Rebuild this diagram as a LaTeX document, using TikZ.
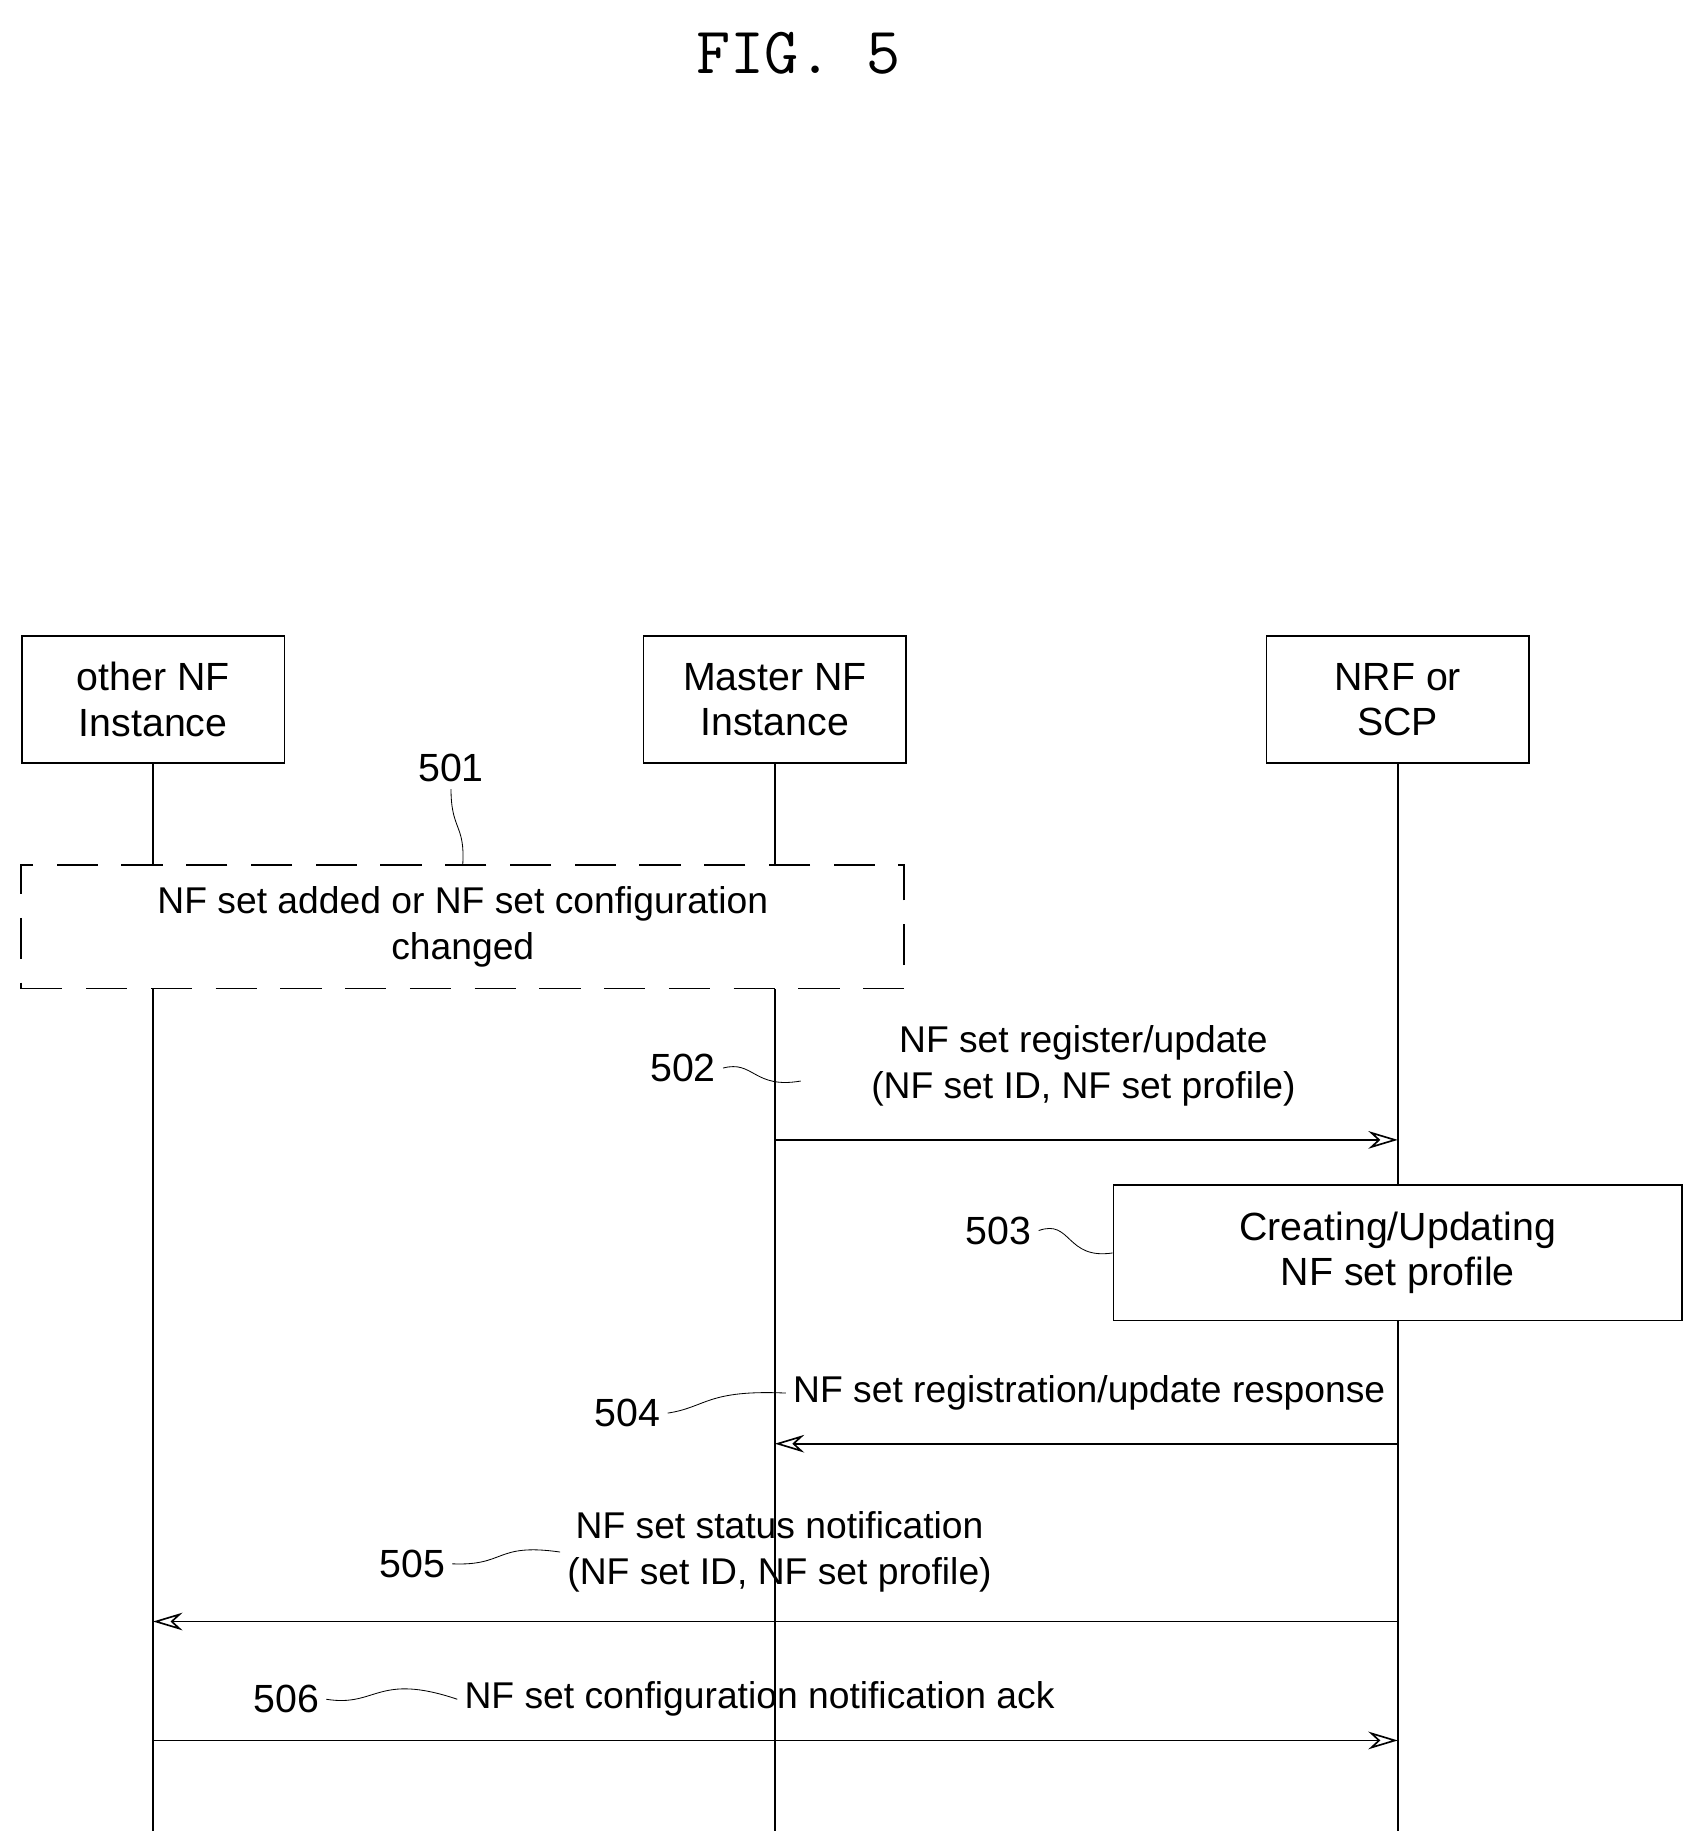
\documentclass[tikz,border=0pt]{standalone}
\usepackage{fontspec}
\setmainfont{Liberation Sans}
\usetikzlibrary{arrows.meta,positioning}
\tikzset{
  ent/.style={draw, thick, minimum width=4.46cm, minimum height=2.16cm, align=center, fill=white, font=\fontsize{19}{22}\selectfont},
  msg/.style={font=\fontsize{18}{22}\selectfont, align=center},
  ref/.style={font=\fontsize{19}{22}\selectfont},
  life/.style={thick},
  call/.style={thick, -{Stealth[length=5mm,width=3mm,open]}},
  tag/.style={thin}
}
\begin{document}
\begin{tikzpicture}[x=0.02cm,y=-0.02cm]
\useasboundingbox (0,0) rectangle (1440,1560);
% title
\node[font=\ttfamily\fontsize{32}{36}\selectfont] (title) at (678,45) {FIG. 5};

% entities
\node[ent] (other) at (130,594) {other NF\\Instance};
\node[ent] (master) at (658,594) {Master NF\\Instance};
\node[ent] (nrf) at (1187,594) {NRF or\\SCP};

% lifelines
\coordinate (otherEnd) at (130,1555);
\coordinate (masterEnd) at (658,1555);
\coordinate (nrfEnd) at (1187,1555);
\draw[life] (other) -- (otherEnd);
\draw[life] (master) -- (masterEnd);
\draw[life] (nrf) -- (nrfEnd);

% 501
\node[draw, thick, dashed, dash pattern=on 7mm off 4mm, fill=white, minimum width=15cm, minimum height=2.1cm, msg] (s501) at (393,787) {NF set added or NF set configuration\\changed};
\node[ref] (n501) at (383,652) {501};
\draw[tag] (n501.south) .. controls (383,705) and (395,700) .. (s501.north -| 393,0);

% 502
\coordinate (a502) at (658,968);
\coordinate (b502) at (1187,968);
\draw[call] (a502) -- (b502);
\node[msg] (m502) at (920,905) {NF set register/update\\(NF set ID, NF set profile)};
\node[ref] (n502) at (580,907) {502};
\draw[tag] (n502.east) .. controls (640,900) and (640,925) .. (680,918);

% 503
\node[ent, minimum width=9.66cm, minimum height=2.3cm] (s503) at (1187,1064) {Creating/Updating\\NF set profile};
\node[ref] (n503) at (848,1045) {503};
\draw[tag] (n503.east) .. controls (910,1035) and (905,1070) .. (s503.west);

% 504
\coordinate (a504) at (1187,1226);
\coordinate (b504) at (658,1226);
\draw[call] (a504) -- (b504);
\node[msg] (m504) at (925,1183) {NF set registration/update response};
\node[ref] (n504) at (533,1200) {504};
\draw[tag] (n504.east) .. controls (600,1195) and (600,1180) .. (m504.west);

% 505
\coordinate (a505) at (1187,1377);
\coordinate (b505) at (130,1377);
\draw[call] (a505) -- (b505);
\node[msg] (m505) at (662,1318) {NF set status notification\\(NF set ID, NF set profile)};
\node[ref] (n505) at (350,1328) {505};
\draw[tag] (n505.east) .. controls (430,1330) and (420,1310) .. (m505.west);

% 506
\coordinate (a506) at (130,1478);
\coordinate (b506) at (1187,1478);
\draw[call] (a506) -- (b506);
\node[msg] (m506) at (645,1443) {NF set configuration notification ack};
\node[ref] (n506) at (243,1443) {506};
\draw[tag] (n506.east) .. controls (320,1450) and (320,1420) .. (m506.west);
\end{tikzpicture}
\end{document}
